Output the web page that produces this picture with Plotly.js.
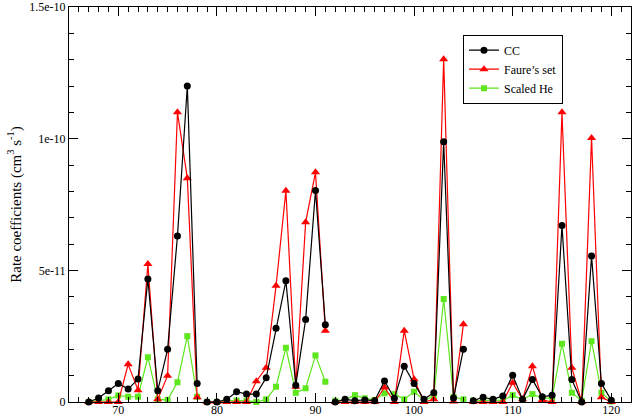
<!DOCTYPE html>
<html>
<head>
<meta charset="utf-8">
<script src="https://cdn.plot.ly/plotly-3.0.1.min.js"></script>
<style>html,body{margin:0;padding:0;background:#fff;}#chart{width:636px;height:418px;}</style>
</head>
<body>
<div id="chart"></div>
<script>
// Transition index, split into the four connected segments seen in the chart
const segmentX = [
  [67, 68, 69, 70, 71, 72, 73, 74, 75, 76, 77, 78],
  [79, 80, 81, 82, 83, 84, 85, 86, 87, 88, 89, 90, 91],
  [92, 93, 94, 95, 96, 97, 98, 99, 100, 101, 102, 103, 104, 105],
  [106, 107, 108, 109, 110, 111, 112, 113, 114, 115, 116, 117, 118, 119, 120]
];
// CC rate coefficients (cm^3 s^-1)
const ccValues = [
  [0, 0.15e-11, 0.43e-11, 0.7e-11, 0.49e-11, 0.87e-11, 4.67e-11, 0.43e-11, 2.0e-11, 6.3e-11, 12.0e-11, 0.7e-11],
  [0, 0, 0.1e-11, 0.39e-11, 0.3e-11, 0.3e-11, 0.92e-11, 2.8e-11, 4.6e-11, 0.64e-11, 3.13e-11, 8.03e-11, 2.93e-11],
  [0, 0.1e-11, 0.05e-11, 0.08e-11, 0.05e-11, 0.8e-11, 0.14e-11, 1.36e-11, 0.7e-11, 0.1e-11, 0.35e-11, 9.88e-11, 0.15e-11, 2.0e-11],
  [0.05e-11, 0.18e-11, 0.1e-11, 0.23e-11, 1.02e-11, 0.1e-11, 0.85e-11, 0.2e-11, 0.26e-11, 6.7e-11, 0.85e-11, 0, 5.54e-11, 0.7e-11, 0.07e-11]
];
// Faure's set
const faureValues = [
  [0, 0, 0, 0, 1.43e-11, 0.45e-11, 5.24e-11, 0.1e-11, 1.0e-11, 11.0e-11, 8.5e-11, 0.18e-11],
  [0, 0, 0, 0, 0, 0.79e-11, 1.3e-11, 4.41e-11, 8.02e-11, 0.58e-11, 6.83e-11, 8.72e-11, 2.71e-11],
  [0, 0, 0, 0, 0, 0.55e-11, 0, 2.71e-11, 0.86e-11, 0, 0.1e-11, 13.02e-11, 0.02e-11, 2.95e-11],
  [0, 0, 0, 0, 0.73e-11, 0.1e-11, 1.36e-11, 0.08e-11, 0, 11.0e-11, 1.3e-11, 0, 10.03e-11, 0.18e-11, 0]
];
// Scaled He
const scaledHeValues = [
  [0, 0.05e-11, 0.1e-11, 0.25e-11, 0.2e-11, 0.2e-11, 1.7e-11, 0.1e-11, 0.08e-11, 0.75e-11, 2.5e-11, 0.2e-11],
  [0, 0, 0.05e-11, 0.05e-11, 0.05e-11, 0, 0.1e-11, 0.58e-11, 2.06e-11, 0.35e-11, 0.52e-11, 1.77e-11, 0.77e-11],
  [0.05e-11, 0.08e-11, 0.26e-11, 0.14e-11, 0.08e-11, 0.33e-11, 0.3e-11, 0.1e-11, 0.39e-11, 0.08e-11, 0.2e-11, 3.91e-11, 0.2e-11, 0.1e-11],
  [0.05e-11, 0.05e-11, 0.08e-11, 0.05e-11, 0.26e-11, 0.08e-11, 0.3e-11, 0.15e-11, 0.15e-11, 2.21e-11, 0.35e-11, 0.05e-11, 2.31e-11, 0.35e-11, 0.02e-11]
];
const seriesNames = ['CC', 'Faure\u2019s set', 'Scaled He'];
const xTickVals = [70, 80, 90, 100, 110, 120];
const yTickVals = [0, 5e-11, 1e-10, 1.5e-10];
const yTickText = ['0', '5e-11', '1e-10', '1.5e-10'];

const FONT = '"Liberation Serif", serif';
const styles = [
  {color: '#000000', symbol: 'circle', size: 7},
  {color: '#ff0000', symbol: 'triangle-up', size: 8},
  {color: '#5ee61e', symbol: 'square', size: 6}
];
const allSeries = [ccValues, faureValues, scaledHeValues];

const traces = [];
[2, 1, 0].forEach(function (s) {
  allSeries[s].forEach(function (seg, i) {
    traces.push({
      type: 'scatter',
      mode: 'lines+markers',
      x: segmentX[i],
      y: seg,
      name: seriesNames[s],
      legendgroup: 'g' + s,
      legendrank: s + 1,
      showlegend: i === 0,
      cliponaxis: false,
      line: {color: styles[s].color, width: 1.2},
      marker: {color: styles[s].color, symbol: styles[s].symbol, size: styles[s].size, line: {width: 0}}
    });
  });
});

const axisCommon = {
  showline: true, linecolor: '#000', linewidth: 1, mirror: 'allticks',
  showgrid: false, zeroline: false, ticks: 'inside', tickcolor: '#000', tickwidth: 1,
  ticklen: 9, ticklabeloverflow: 'allow',
  tickfont: {family: FONT, size: 12, color: '#000'}
};

const layout = {
  width: 636, height: 418,
  margin: {l: 69, r: 5, t: 7, b: 16},
  paper_bgcolor: '#fff', plot_bgcolor: '#fff',
  font: {family: FONT, size: 12, color: '#000'},
  xaxis: Object.assign({}, axisCommon, {
    range: [65, 122], tickmode: 'array', tickvals: xTickVals, ticklabelstandoff: -3,
    minor: {tickmode: 'linear', tick0: 0, dtick: 1, ticks: 'inside', ticklen: 5, tickcolor: '#000', tickwidth: 1, showgrid: false}
  }),
  yaxis: Object.assign({}, axisCommon, {
    range: [0, 1.5e-10], tickmode: 'array', tickvals: yTickVals, ticktext: yTickText,
    minor: {tickmode: 'linear', tick0: 0, dtick: 1e-11, ticks: 'inside', ticklen: 5, tickcolor: '#000', tickwidth: 1, showgrid: false},
    title: {text: 'Rate coefficients (cm<sup>3</sup> s<sup>-1</sup>)', font: {family: FONT, size: 15, color: '#000'}, standoff: 4}
  }),
  legend: {
    x: 0.701, y: 0.93, xanchor: 'left', yanchor: 'top',
    bordercolor: '#000', borderwidth: 1, bgcolor: '#fff',
    font: {family: FONT, size: 12, color: '#000'},
    tracegroupgap: 0, itemwidth: 30, traceorder: 'normal'
  },
  showlegend: true
};

Plotly.newPlot('chart', traces, layout, {displayModeBar: false, staticPlot: true});
</script>
</body>
</html>
